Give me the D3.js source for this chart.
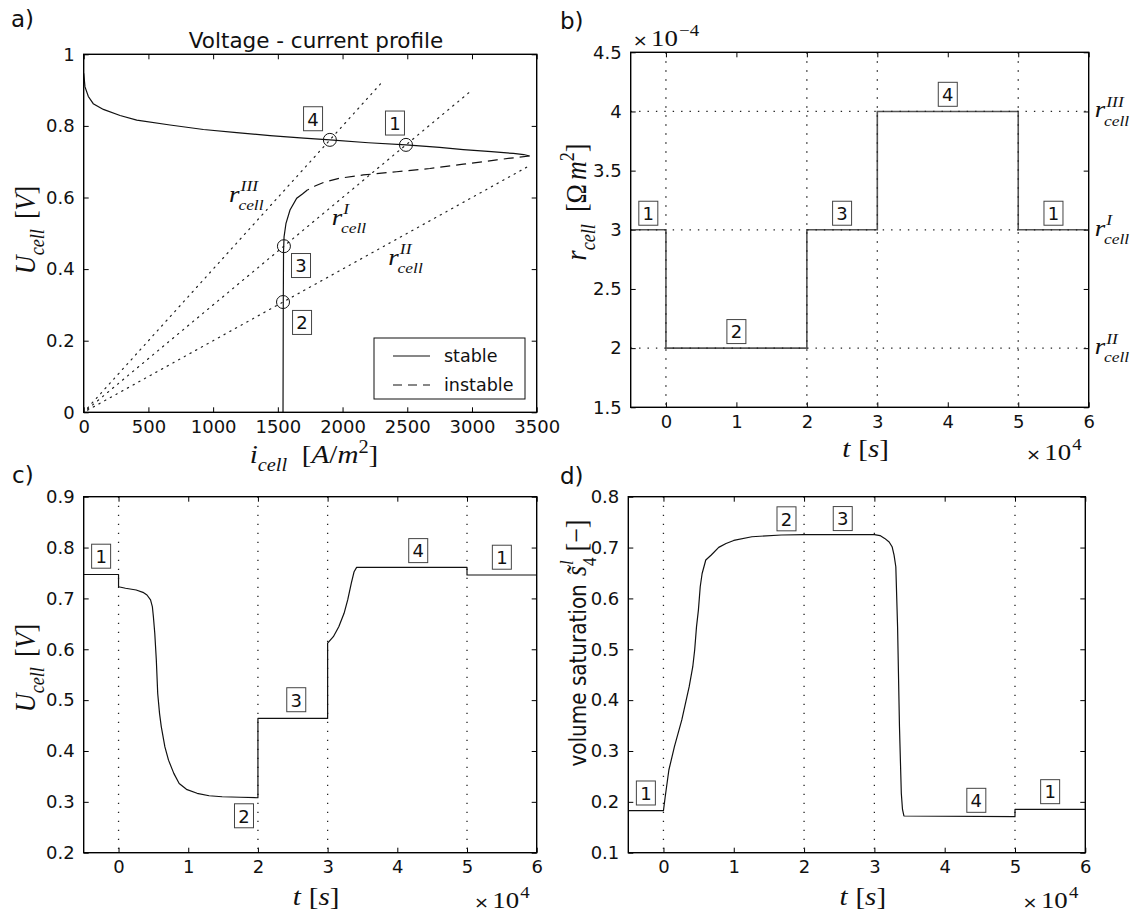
<!DOCTYPE html>
<html>
<head>
<meta charset="utf-8">
<script src="https://cdn.jsdelivr.net/npm/d3@7"></script>
<style>
  body { margin: 0; background: #fff; }
  svg { display: block; }
</style>
</head>
<body>
<script>
// ---------------- data ----------------
// a) voltage-current characteristic: upper stable branch (A/m², V)
const upperI = [0, 10, 36, 74, 152, 281, 410, 667, 925, 1182, 1440, 1700, 1902, 2200, 2490, 2750, 2933, 3150, 3320, 3400, 3445];
const upperU = [0.947, 0.909, 0.882, 0.862, 0.846, 0.829, 0.816, 0.8025, 0.790, 0.781, 0.773, 0.766, 0.761, 0.753, 0.747, 0.740, 0.734, 0.728, 0.723, 0.720, 0.716];
// unstable middle branch
const dashI = [3445, 3300, 3191, 2933, 2675, 2418, 2160, 1980, 1860, 1787, 1728];
const dashU = [0.716, 0.710, 0.705, 0.693, 0.681, 0.672, 0.663, 0.654, 0.643, 0.632, 0.621];
// lower stable branch
const lowerI = [1728, 1690, 1646, 1594, 1563, 1548, 1544, 1542, 1540];
const lowerU = [0.621, 0.610, 0.598, 0.565, 0.528, 0.490, 0.450, 0.300, 0];

// load resistances (Ω m²) and where their load lines end (A/m²)
const rNames = ["I", "II", "III"];
const rValues = [3e-4, 2e-4, 4e-4];
const rLineEnd = [3000, 3450, 2300];
const rLineStart = 30;
// label anchors of the load lines (A/m², V)
const rLabelI = [1916, 2353, 1123];
const rLabelU = [0.524, 0.412, 0.588];

// operating points 1..4
const opNames = ["1", "2", "3", "4"];
const opI = [2490, 1540, 1547, 1902];
const opU = [0.747, 0.308, 0.464, 0.761];
const opLabelI = [2405, 1687, 1679, 1772];
const opLabelU = [0.808, 0.251, 0.410, 0.820];

const xTicksA = [0, 500, 1000, 1500, 2000, 2500, 3000, 3500];
const yTicksA = [0, 0.2, 0.4, 0.6, 0.8, 1];

// b) resistance schedule (t in 10^4 s, r in 10^-4 Ω m²)
const stepT = [-0.5, 0, 2, 3, 5, 6];
const stepR = [3, 2, 3, 4, 3, 3];
const switchT = [0, 2, 3, 5];
const rLevels = [4, 3, 2];
const rLevelNames = ["III", "I", "II"];
const bLabT = [-0.25, 1, 2.5, 4, 5.5];
const bLabR = [3.14, 2.14, 3.14, 4.145, 3.14];
const stateSeq = ["1", "2", "3", "4", "1"];
const xTicksT = [0, 1, 2, 3, 4, 5, 6];
const yTicksB = [1.5, 2, 2.5, 3, 3.5, 4, 4.5];

// c) cell voltage response
const tC = [-0.5, 0, 0, 0.1, 0.253, 0.35, 0.408, 0.459, 0.485, 0.50, 0.52, 0.542, 0.562, 0.588, 0.613, 0.665, 0.717, 0.793, 0.87, 0.974, 1.127, 1.3, 1.487, 1.75, 2.0,
            2.0, 3.0, 3.0, 3.082, 3.16, 3.236, 3.288, 3.34, 3.38, 3.416, 5.0, 5.0, 6.0];
const uC = [0.747, 0.747, 0.723, 0.720, 0.7165, 0.712, 0.7067, 0.697, 0.684, 0.664, 0.631, 0.579, 0.513, 0.474, 0.448, 0.408, 0.382, 0.356, 0.336, 0.3246, 0.3168, 0.312, 0.310, 0.309, 0.308,
            0.464, 0.464, 0.612, 0.6247, 0.6444, 0.6707, 0.697, 0.730, 0.7525, 0.761, 0.761, 0.746, 0.746];
const cLabT = [-0.25, 1.8, 2.55, 4.3, 5.5];
const cLabU = [0.783, 0.2726, 0.5008, 0.794, 0.781];
const yTicksC = [0.2, 0.3, 0.4, 0.5, 0.6, 0.7, 0.8, 0.9];

// d) liquid volume saturation
const tD = [-0.5, 0, 0.025, 0.077, 0.156, 0.261, 0.366, 0.417, 0.444, 0.47, 0.497, 0.523, 0.55, 0.602, 0.68, 0.786, 0.89, 1.0, 1.258, 1.677, 2.0, 3.0,
            3.08, 3.147, 3.21, 3.252, 3.28, 3.305, 3.33, 3.357, 3.383, 3.40, 3.42, 5.0, 5.0, 6.0];
const sD = [0.1826, 0.1826, 0.210, 0.2626, 0.3084, 0.361, 0.4264, 0.4657, 0.4986, 0.544, 0.577, 0.623, 0.649, 0.6755, 0.6853, 0.7004, 0.708, 0.714, 0.7213, 0.7247, 0.7253, 0.7253,
            0.7235, 0.718, 0.711, 0.7017, 0.685, 0.6623, 0.5444, 0.3477, 0.2168, 0.185, 0.1722, 0.1708, 0.1853, 0.1853];
const dLabT = [-0.25, 1.75, 2.55, 4.45, 5.5];
const dLabS = [0.2174, 0.7565, 0.757, 0.203, 0.22];
const yTicksD = [0.1, 0.2, 0.3, 0.4, 0.5, 0.6, 0.7, 0.8];

// ---------------- drawing ----------------
const W = 1138, H = 919;
const SANS = "DejaVu Sans";
const SERIF = "Liberation Serif";
const STRETCH = 1.12;   // formulas are set slightly wide
const svg = d3.select("body").append("svg").attr("width", W).attr("height", H);
const fmt = d3.format("~g");
let clipId = 0;

function panel(box, xDom, yDom, xTicks, yTicks) {
  const x = d3.scaleLinear().domain(xDom).range([box.l, box.r]);
  const y = d3.scaleLinear().domain(yDom).range([box.b, box.t]);
  const g = svg.append("g");
  const id = "clip" + (clipId++);
  g.append("clipPath").attr("id", id).append("rect")
    .attr("x", box.l).attr("y", box.t).attr("width", box.r - box.l).attr("height", box.b - box.t);
  const tl = 5;
  const style = sel => {
    sel.select(".domain").remove();
    sel.selectAll("line").attr("stroke", "#000").attr("stroke-width", 1);
    sel.selectAll("text").style("font-family", SANS).style("font-size", "18px").attr("fill", "#111");
  };
  g.append("g").attr("transform", `translate(0,${box.b})`)
    .call(d3.axisBottom(x).tickValues(xTicks).tickSizeInner(-tl).tickSizeOuter(0).tickPadding(8).tickFormat(fmt)).call(style);
  g.append("g").attr("transform", `translate(0,${box.t})`)
    .call(d3.axisTop(x).tickValues(xTicks).tickSizeInner(-tl).tickSizeOuter(0).tickFormat("")).call(style);
  g.append("g").attr("transform", `translate(${box.l},0)`)
    .call(d3.axisLeft(y).tickValues(yTicks).tickSizeInner(-tl).tickSizeOuter(0).tickPadding(9).tickFormat(fmt)).call(style);
  g.append("g").attr("transform", `translate(${box.r},0)`)
    .call(d3.axisRight(y).tickValues(yTicks).tickSizeInner(-tl).tickSizeOuter(0).tickFormat("")).call(style);
  const plot = g.append("g").attr("clip-path", `url(#${id})`);
  const frame = () => g.append("rect").attr("x", box.l).attr("y", box.t)
    .attr("width", box.r - box.l).attr("height", box.b - box.t)
    .attr("fill", "none").attr("stroke", "#000").attr("stroke-width", 1.4);
  return { g, plot, x, y, box, frame };
}

// Lays out a formula from tokens; returns group and its width.
function formula(parent, tokens, size) {
  const g = parent.append("g");
  let cx = 0;
  const put = (str, px, py, fs, italic, fam) => {
    const t = g.append("text").attr("x", px).attr("y", py).text(str)
      .style("font-family", fam || SERIF).style("font-size", fs + "px")
      .style("font-style", italic ? "italic" : "normal").attr("fill", "#111");
    return t.node().getComputedTextLength();
  };
  tokens.forEach(tk => {
    if (tk.gap) { cx += tk.gap; return; }
    if (tk.s !== undefined) {
      cx += put(tk.s, cx, 0, tk.size || size, tk.i, tk.f);
    } else {
      const both = tk.sub && tk.sup;
      const ss = size * (both ? 0.65 : 0.7);
      const subY = size * (both ? 0.34 : 0.3);
      const supY = -size * (both ? 0.43 : 0.4);
      let w = 0;
      if (tk.sub) w = Math.max(w, put(tk.sub, cx + (tk.subdx || 0), subY, ss, tk.subI !== false, SERIF) + (tk.subdx || 0));
      if (tk.sup) w = Math.max(w, put(tk.sup, cx + (tk.supdx || 0), supY, ss, tk.supI !== false, SERIF) + (tk.supdx || 0));
      cx += w;
    }
  });
  return { g, width: cx };
}
function placeH(f, x, y, anchor) {
  const w = f.width * STRETCH;
  const dx = anchor === "middle" ? -w / 2 : anchor === "end" ? -w : 0;
  f.g.attr("transform", `translate(${x + dx},${y}) scale(${STRETCH},1)`);
}
function placeV(f, x, y) {
  f.g.attr("transform", `translate(${x},${y}) rotate(-90) translate(${-f.width / 2},0) scale(1,${STRETCH})`);
}
function numBox(g, cx, cy, s) {
  g.append("rect").attr("x", cx - 9.5).attr("y", cy - 12).attr("width", 19).attr("height", 24)
    .attr("fill", "none").attr("stroke", "#444").attr("stroke-width", 1);
  g.append("text").attr("x", cx).attr("y", cy + 6.8).attr("text-anchor", "middle")
    .style("font-family", SANS).style("font-size", "18px").attr("fill", "#111").text(s);
}
function panelTag(x, y, s) {
  svg.append("text").attr("x", x).attr("y", y).style("font-family", SANS).style("font-size", "23px")
    .attr("fill", "#111").text(s);
}
const rcell = (sup) => [{ s: "r", i: true }, { sub: "cell", sup: sup, subdx: -1, supdx: 1 }];
const timesTen = (exp) => [{ s: "× ", f: SANS, size: 16 }, { gap: 3 }, { s: "10" }, { sup: exp, supI: false, supdx: 1 }];

// ===== a) Voltage - current profile =====
{
  const P = panel({ l: 83.7, r: 536.7, t: 54.3, b: 412.3 }, [0, 3500], [0, 1], xTicksA, yTicksA);
  const { x, y, plot } = P;
  const line = d3.line().x(d => x(d[0])).y(d => y(d[1]));
  // load lines U = r * i
  rValues.forEach((r, k) => {
    plot.append("path").attr("d", line([[rLineStart, rLineStart * r], [rLineEnd[k], rLineEnd[k] * r]]))
      .attr("fill", "none").attr("stroke", "#222").attr("stroke-width", 1.2)
      .attr("stroke-dasharray", "1.3,5.2").attr("stroke-linecap", "round");
  });
  plot.append("path").attr("d", line(d3.zip(upperI, upperU))).attr("fill", "none").attr("stroke", "#111").attr("stroke-width", 1.2);
  plot.append("path").attr("d", line(d3.zip(dashI, dashU))).attr("fill", "none").attr("stroke", "#111").attr("stroke-width", 1.2).attr("stroke-dasharray", "10,6");
  plot.append("path").attr("d", line(d3.zip(lowerI, lowerU))).attr("fill", "none").attr("stroke", "#111").attr("stroke-width", 1.2);
  opI.forEach((iv, k) => {
    P.g.append("circle").attr("cx", x(iv)).attr("cy", y(opU[k])).attr("r", 6.5)
      .attr("fill", "none").attr("stroke", "#111").attr("stroke-width", 1);
    numBox(P.g, x(opLabelI[k]), y(opLabelU[k]), opNames[k]);
  });
  rNames.forEach((nm, k) => {
    placeH(formula(P.g, rcell(nm), 24), x(rLabelI[k]), y(rLabelU[k]), "start");
  });
  // legend
  const lg = P.g.append("g");
  const lx = P.box.r - 11.7 - 151, ly = P.box.b - 13.3 - 61;
  lg.append("rect").attr("x", lx).attr("y", ly).attr("width", 151).attr("height", 61)
    .attr("fill", "#fff").attr("stroke", "#111").attr("stroke-width", 1);
  [["stable", null, 18], ["instable", "9,6", 47]].forEach(([lab, dash, dy]) => {
    lg.append("line").attr("x1", lx + 19).attr("x2", lx + 56).attr("y1", ly + dy).attr("y2", ly + dy)
      .attr("stroke", "#111").attr("stroke-width", 1.2).attr("stroke-dasharray", dash);
    lg.append("text").attr("x", lx + 70).attr("y", ly + dy + 6).style("font-family", SANS).style("font-size", "17.5px")
      .attr("fill", "#111").text(lab);
  });
  P.frame();
  svg.append("text").attr("x", 316).attr("y", 48).attr("text-anchor", "middle")
    .style("font-family", SANS).style("font-size", "21.5px").attr("fill", "#111").text("Voltage - current profile");
  placeH(formula(svg, [{ s: "i", i: true }, { sub: "cell" }, { gap: 13 }, { s: "[" }, { s: "A", i: true }, { s: "/" }, { s: "m", i: true }, { sup: "2", supI: false }, { s: "]" }], 26), 314, 463, "middle");
  placeV(formula(svg, [{ s: "U", i: true }, { sub: "cell" }, { gap: 10 }, { s: "[" }, { s: "V", i: true }, { s: "]" }], 26), 35, 230);
  panelTag(11, 27, "a)");
}

// shared helpers for the time panels
function switchLines(P) {
  switchT.forEach(t => {
    P.plot.append("line").attr("x1", P.x(t)).attr("x2", P.x(t)).attr("y1", P.box.t).attr("y2", P.box.b)
      .attr("stroke", "#222").attr("stroke-width", 1.3).attr("stroke-dasharray", "1.4,7.6");
  });
}
function timeLabels(P, yBase) {
  const cxm = (P.box.l + P.box.r) / 2 + 6;
  placeH(formula(svg, [{ s: "t", i: true }, { gap: 7 }, { s: "[" }, { s: "s", i: true }, { s: "]" }], 26), cxm, yBase, "middle");
  placeH(formula(svg, timesTen("4"), 24), P.box.r - 7, yBase + 3, "end");
}

// ===== b) resistance schedule =====
{
  const P = panel({ l: 630.7, r: 1088.7, t: 52.3, b: 407.3 }, [-0.5, 6], [1.5, 4.5], xTicksT, yTicksB);
  const { x, y, plot } = P;
  plot.append("path").attr("d", d3.line().curve(d3.curveStepAfter).x(d => x(d[0])).y(d => y(d[1]))(d3.zip(stepT, stepR)))
    .attr("fill", "none").attr("stroke", "#555").attr("stroke-width", 1.6);
  switchLines(P);
  rLevels.forEach(r => {
    plot.append("line").attr("x1", P.box.l).attr("x2", P.box.r).attr("y1", y(r)).attr("y2", y(r))
      .attr("stroke", "#222").attr("stroke-width", 1.3).attr("stroke-dasharray", "1.4,7");
  });
  bLabT.forEach((t, k) => numBox(P.g, x(t), y(bLabR[k]), stateSeq[k]));
  rLevels.forEach((r, k) => placeH(formula(svg, rcell(rLevelNames[k]), 24), P.box.r + 6, y(r) + 6, "start"));
  P.frame();
  placeH(formula(svg, timesTen("−4"), 24), P.box.l + 2, 46, "start");
  timeLabels(P, 457);
  placeV(formula(svg, [{ s: "r", i: true }, { sub: "cell" }, { gap: 12 }, { s: "[" }, { s: "Ω" }, { gap: 4 }, { s: "m", i: true }, { sup: "2", supI: false }, { s: "]" }], 26), 586, 202);
  panelTag(560, 29, "b)");
}

// ===== c) cell voltage =====
{
  const P = panel({ l: 83.7, r: 536.7, t: 496.7, b: 852.7 }, [-0.5, 6], [0.2, 0.9], xTicksT, yTicksC);
  const { x, y, plot } = P;
  switchLines(P);
  plot.append("path").attr("d", d3.line().x(d => x(d[0])).y(d => y(d[1]))(d3.zip(tC, uC)))
    .attr("fill", "none").attr("stroke", "#111").attr("stroke-width", 1.2).attr("stroke-linejoin", "round");
  cLabT.forEach((t, k) => numBox(P.g, x(t), y(cLabU[k]), stateSeq[k]));
  P.frame();
  timeLabels(P, 905);
  placeV(formula(svg, [{ s: "U", i: true }, { sub: "cell" }, { gap: 10 }, { s: "[" }, { s: "V", i: true }, { s: "]" }], 26), 35, 668);
  panelTag(12, 483, "c)");
}

// ===== d) volume saturation =====
{
  const P = panel({ l: 628.3, r: 1085.3, t: 496.7, b: 852.7 }, [-0.5, 6], [0.1, 0.8], xTicksT, yTicksD);
  const { x, y, plot } = P;
  switchLines(P);
  plot.append("path").attr("d", d3.line().x(d => x(d[0])).y(d => y(d[1]))(d3.zip(tD, sD)))
    .attr("fill", "none").attr("stroke", "#111").attr("stroke-width", 1.2).attr("stroke-linejoin", "round");
  dLabT.forEach((t, k) => numBox(P.g, x(t), y(dLabS[k]), stateSeq[k]));
  P.frame();
  timeLabels(P, 905);
  placeV(formula(svg, [{ s: "volume saturation", f: SANS, size: 20 }, { gap: 8 }, { s: "s\u0303", i: true }, { sub: "4", sup: "l", subI: false, subdx: 0, supdx: 1 }, { gap: 6 }, { s: "[" }, { s: "−" }, { s: "]" }], 26), 586, 643);
  panelTag(560, 484, "d)");
}
</script>
</body>
</html>
